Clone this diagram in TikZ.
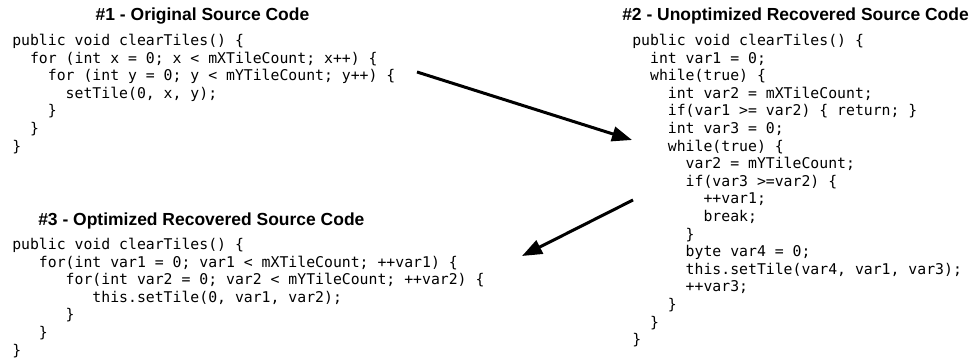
\documentclass[tikz,border=0pt]{standalone}
\usepackage{fontspec}
\setmainfont{Liberation Sans}
\setmonofont{DejaVu Sans Mono}
\usepackage{tikz}
\usetikzlibrary{arrows.meta}
\usetikzlibrary{positioning}
\newcommand{\sps}[1]{\hspace*{#1\fontcharwd\font`0}}
\tikzset{
code block/.style = { anchor = north west, align = left, inner sep = 0pt, font = \ttfamily\fontsize{11.1pt}{13.2pt}\selectfont },
block title/.style = { anchor = base west, inner sep = 0pt, font = \bfseries\fontsize{13.1pt}{15pt}\selectfont },
flow arrow/.style = { line width = 2.25pt, -{Triangle[length = 15pt, width = 11pt]} },
}

\begin{document}
\begin{tikzpicture}[x = 0.75pt, y = -0.75pt]
    \useasboundingbox (0, 0) rectangle (972, 360);
    % titles
    \node[block title, anchor = base] (title orig) at (202.5, 21) {\#1 - Original Source Code};
    \node[block title] (title unopt) at (622, 21) {\#2 - Unoptimized Recovered Source Code};
    \node[block title] (title opt) at (38, 225) {\#3 - Optimized Recovered Source Code};
    % code
    \node[code block] (code orig) at (12, 34) {public void clearTiles() \{\\
        \sps{2}for (int x = 0; x < mXTileCount; x++) \{\\
        \sps{4}for (int y = 0; y < mYTileCount; y++) \{\\
        \sps{6}setTile(0, x, y);\\
        \sps{4}\}\\
        \sps{2}\}\\
        \}};
    \node[code block] (code unopt) at (632, 34) {public void clearTiles() \{\\
        \sps{2}int var1 = 0;\\
        \sps{2}while(true) \{\\
        \sps{4}int var2 = mXTileCount;\\
        \sps{4}if(var1 >= var2) \{ return; \}\\
        \sps{4}int var3 = 0;\\
        \sps{4}while(true) \{\\
        \sps{6}var2 = mYTileCount;\\
        \sps{6}if(var3 >=var2) \{\\
        \sps{8}++var1;\\
        \sps{8}break;\\
        \sps{6}\}\\
        \sps{6}byte var4 = 0;\\
        \sps{6}this.setTile(var4, var1, var3);\\
        \sps{6}++var3;\\
        \sps{4}\}\\
        \sps{2}\}\\
        \}};
    \node[code block] (code opt) at (12, 238) {public void clearTiles() \{\\
        \sps{3}for(int var1 = 0; var1 < mXTileCount; ++var1) \{\\
        \sps{6}for(int var2 = 0; var2 < mYTileCount; ++var2) \{\\
        \sps{9}this.setTile(0, var1, var2);\\
        \sps{6}\}\\
        \sps{3}\}\\
        \}};
    % arrows
    \coordinate (orig out) at (417, 72);
    \coordinate (unopt in) at (632, 140);
    \coordinate (unopt out) at (633, 200);
    \coordinate (opt in) at (522, 256);
    \draw[flow arrow] (orig out) -- (unopt in);
    \draw[flow arrow] (unopt out) -- (opt in);
\end{tikzpicture}
\end{document}
